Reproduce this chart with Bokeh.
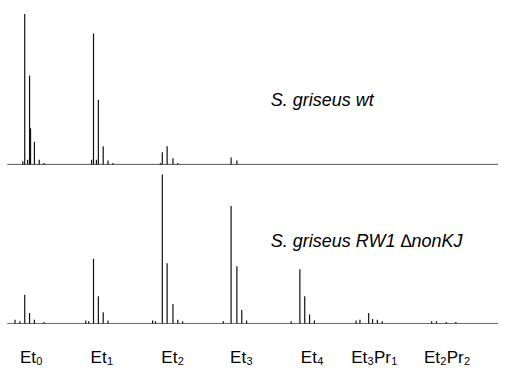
from bokeh.plotting import figure
from bokeh.models import Range1d
from bokeh.core.properties import value
from bokeh.embed import file_html
from bokeh.resources import INLINE

# ---- data: peak positions (m/z scale, arbitrary units) and relative intensities (%) ----
wt_x = [23, 25, 28, 30, 31, 35, 40, 45, 94, 96, 99, 101, 106, 111, 116,
        165, 167, 172, 178, 183, 238, 244]
wt_y = [2, 100, 3, 59, 24, 15, 3, 1, 3, 87, 3, 43, 12, 2.5, 1,
        1, 8, 12, 4, 1, 4.5, 2.5]

mut_x = [15, 20, 25, 30, 35, 45, 88, 91, 96, 101, 106, 111, 157, 160, 167, 172,
         178, 183, 188, 230, 238, 244, 249, 254, 300, 309, 314, 319, 324, 367,
         371, 380, 384, 389, 394, 445, 450, 460, 470]
mut_y = [2.5, 1.5, 19, 7, 2.5, 1, 2, 1.5, 43, 18, 7.5, 2, 2, 1.5, 99, 40,
         13, 2.5, 1.5, 1.5, 78, 38, 9, 2, 1.5, 36, 18, 6, 2, 2,
         2.5, 7, 3, 2.5, 1.5, 1.5, 1.5, 1, 1]

wt_name = "S. griseus wt"
mut_name = "S. griseus RW1 \u2206nonKJ"

# group labels: (main, subscript, main, subscript)
label_parts = [["Et", "0"], ["Et", "1"], ["Et", "2"], ["Et", "3"], ["Et", "4"],
               ["Et", "3", "Pr", "1"], ["Et", "2", "Pr", "2"]]
label_x = [20, 93, 166, 237, 310, 362, 437]

# ---- layout constants ----
X0, X1 = 0, 514
Y0, Y1 = -30.6, 214.6
TOP_BASE = 105.7
LBL_Y = -22.3
SUB_Y = -24.8
MAIN_FS = 17
SUB_FS = 11
NAME_FS = 18
FONT = "Liberation Sans"
CW = {"E": 0.667, "t": 0.278, "P": 0.667, "r": 0.333}
SX = 498 / 514  # canvas px per data unit along x

p = figure(width=498, height=369, x_range=Range1d(X0, X1), y_range=Range1d(Y0, Y1),
           output_backend="svg", toolbar_location=None, min_border=0)
p.axis.visible = False
p.grid.visible = False
p.outline_line_color = None
p.background_fill_color = "white"
p.border_fill_color = "white"

# baselines
p.line([7, X1 + 1], [TOP_BASE, TOP_BASE], line_color="#555555", line_width=1)
p.line([7, X1 + 1], [0, 0], line_color="#666666", line_width=1)

# peaks
p.segment(x0=wt_x, y0=[TOP_BASE] * len(wt_x), x1=wt_x,
          y1=[TOP_BASE + v for v in wt_y], line_color="#111111", line_width=1.2)
p.segment(x0=mut_x, y0=[0] * len(mut_x), x1=mut_x, y1=mut_y,
          line_color="#111111", line_width=1.2)

# sample names
p.text(x=[279], y=[148.5], text=[wt_name], text_font=value(FONT),
       text_font_size=f"{NAME_FS}px", text_font_style="italic", text_color="black",
       text_baseline="alphabetic")
p.text(x=[279], y=[54.8], text=[mut_name], text_font=value(FONT),
       text_font_size=f"{NAME_FS}px", text_font_style="italic", text_color="black",
       text_baseline="alphabetic")

# group labels with subscripts
mx, my, mt, sx, sy, st = [], [], [], [], [], []
for x, parts in zip(label_x, label_parts):
    cx = x
    for i, t in enumerate(parts):
        if i % 2 == 0:
            mx.append(cx); my.append(LBL_Y); mt.append(t)
            cx += sum(CW.get(c, 0.556) for c in t) * MAIN_FS / SX + 0.3
        else:
            sx.append(cx); sy.append(SUB_Y); st.append(t)
            cx += 0.556 * SUB_FS / SX + 0.3
p.text(x=mx, y=my, text=mt, text_font=value(FONT), text_font_size=f"{MAIN_FS}px",
       text_color="black", text_baseline="alphabetic")
p.text(x=sx, y=sy, text=st, text_font=value(FONT), text_font_size=f"{SUB_FS}px",
       text_color="black", text_baseline="alphabetic")

open("out.html", "w").write(file_html(p, INLINE))
